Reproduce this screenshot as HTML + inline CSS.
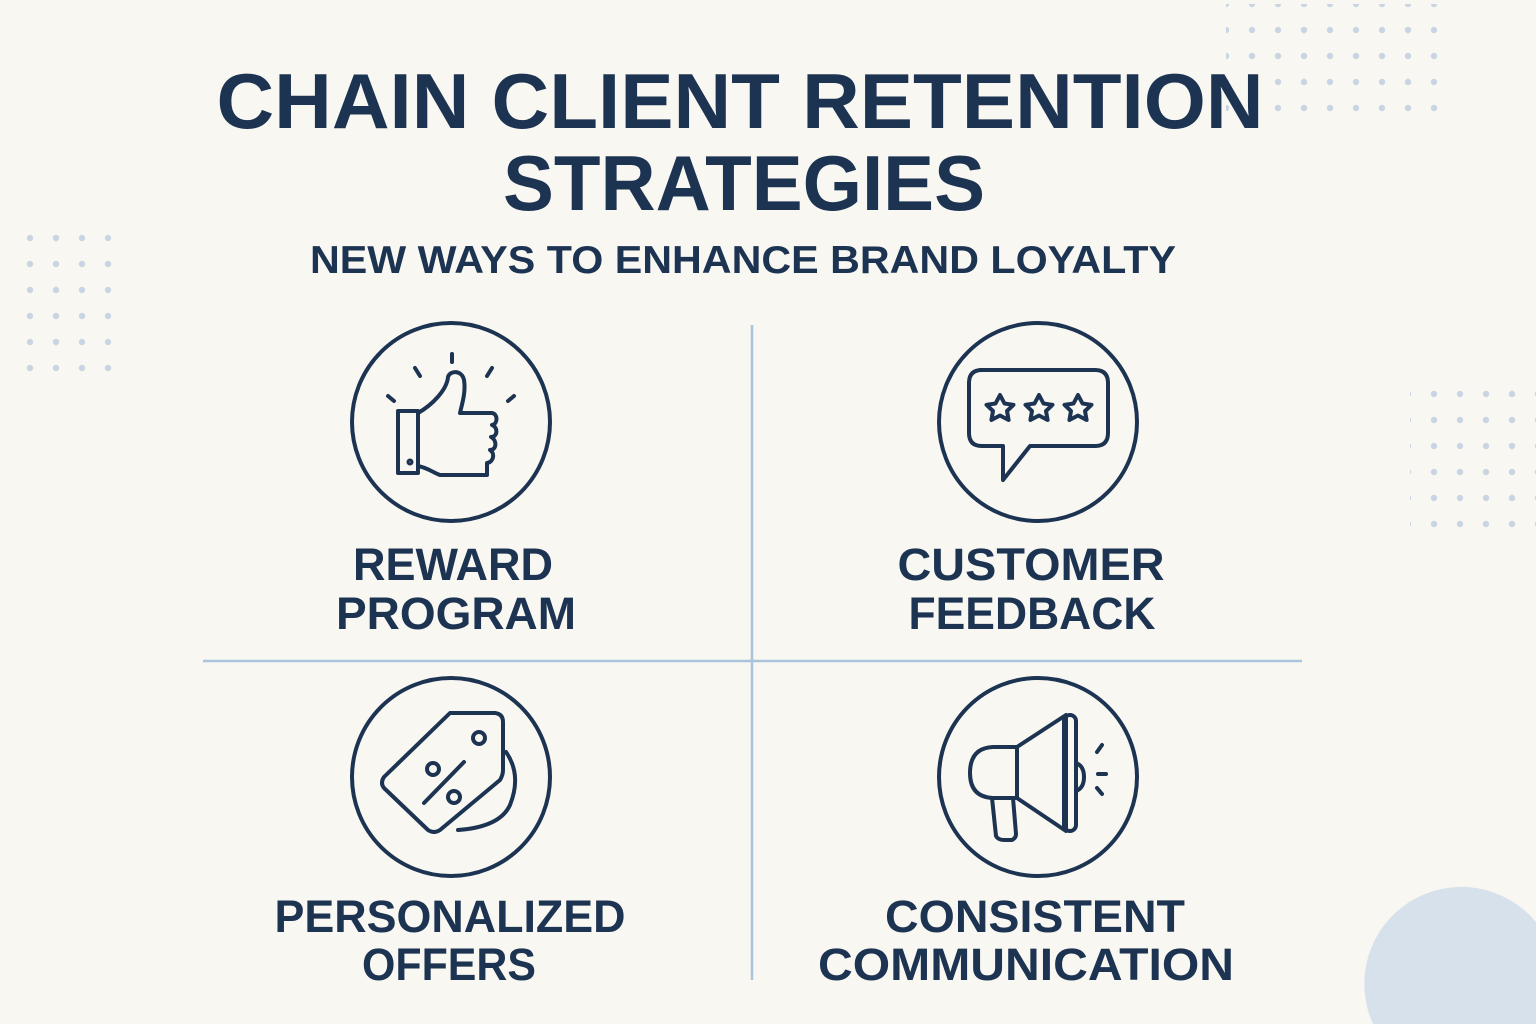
<!DOCTYPE html>
<html><head><meta charset="utf-8"><style>
html,body{margin:0;padding:0;background:#f9f7f2;width:1536px;height:1024px;overflow:hidden;}
svg{display:block}
text{font-family:"Liberation Sans",sans-serif;font-weight:bold;fill:#1c3352;text-anchor:middle}
</style></head><body>
<svg width="1536" height="1024" viewBox="0 0 1536 1024" xmlns="http://www.w3.org/2000/svg">
<rect width="1536" height="1024" fill="#f9f7f2"/>
<defs>
<pattern id="d" x="0" y="0" width="26" height="26" patternUnits="userSpaceOnUse"><circle cx="4" cy="4" r="3.2" fill="#c9d5e2"/></pattern>
</defs>
<rect x="1226" y="4" width="220" height="112" fill="url(#d)"/>
<rect x="11" y="224" width="112" height="160" fill="url(#d)"/>
<rect x="1410" y="381" width="126" height="160" fill="url(#d)"/>
<path d="M1536 922 A97 97 0 0 0 1373 1024 L1536 1024 Z" fill="#d6e1eb"/>

<text x="740" y="128" font-size="78" textLength="1047" lengthAdjust="spacingAndGlyphs">CHAIN CLIENT RETENTION</text>
<text x="744" y="210" font-size="78" textLength="482" lengthAdjust="spacingAndGlyphs">STRATEGIES</text>
<text x="743" y="273" font-size="39" textLength="866" lengthAdjust="spacingAndGlyphs">NEW WAYS TO ENHANCE BRAND LOYALTY</text>

<line x1="752" y1="325" x2="752" y2="980" stroke="#a9c4dc" stroke-width="2.5"/>
<line x1="203" y1="661" x2="1302" y2="661" stroke="#a9c4dc" stroke-width="2.5"/>

<g fill="none" stroke="#1c3352" stroke-width="4" stroke-linecap="round" stroke-linejoin="round">
<circle cx="451" cy="422" r="99"/>
<circle cx="1038" cy="422" r="99"/>
<circle cx="451" cy="777" r="99"/>
<circle cx="1038" cy="777" r="99"/>
<rect x="398" y="411" width="20" height="62"/>
<path d="M418 413 C432 405 447 390 448 377 C450 370 462 370 464 380 C466 392 462 404 460 413 L492 413 C498 414 498 424 492 425 C498 427 498 437 491 437 C497 440 497 450 490 450 C495 453 494 462 487 463 L487 475 L440 475 C432 472 428 468 418 466"/>
<circle cx="410" cy="462" r="1.5"/>
<line x1="452" y1="354" x2="452" y2="362"/>
<line x1="415" y1="368" x2="420" y2="376"/>
<line x1="492" y1="368" x2="487" y2="376"/>
<line x1="388" y1="396" x2="394" y2="401"/>
<line x1="514" y1="396" x2="508" y2="401"/>
<path d="M980 370 L1095 370 Q1108 370 1108 383 L1108 433 Q1108 446 1095 446 L1030 446 L1003 480 L1003 446 L982 446 Q969 446 969 433 L969 383 Q969 370 982 370 Z"/>
</g>
<g fill="none" stroke="#1c3352" stroke-width="4" stroke-linejoin="round">
<path d="M1000 395 l4.5 8.5 9 1.3 -6.5 6.2 1.6 9 -8.6 -4.5 -8.6 4.5 1.6 -9 -6.5 -6.2 9 -1.3z"/>
<path d="M1039 395 l4.5 8.5 9 1.3 -6.5 6.2 1.6 9 -8.6 -4.5 -8.6 4.5 1.6 -9 -6.5 -6.2 9 -1.3z"/>
<path d="M1078 395 l4.5 8.5 9 1.3 -6.5 6.2 1.6 9 -8.6 -4.5 -8.6 4.5 1.6 -9 -6.5 -6.2 9 -1.3z"/>
</g>
<g fill="none" stroke="#1c3352" stroke-width="4" stroke-linecap="round" stroke-linejoin="round">
<path d="M450 713 L495 713 Q503 714 503 722 L503 770 Q503 775 500 780 L440 830 Q434 834 428 830 L384 788 Q380 783 384 777 Z"/>
<circle cx="479" cy="738" r="6"/>
<path d="M506 752 Q522 775 510 805 Q500 827 458 830"/>
<circle cx="433" cy="769" r="6"/>
<circle cx="454" cy="797" r="6"/>
<line x1="424" y1="803" x2="464" y2="762"/>
<path d="M1017 747 L993 747 Q970 748 970 773 Q970 797 993 798 L1017 798 Z"/>
<path d="M1017 747 L1066 715 L1066 831 L1017 798"/>
<rect x="1064" y="715" width="12" height="116" rx="6"/>
<path d="M1076 763 Q1084 766 1084 777 Q1084 788 1076 791"/>
<path d="M992 798 L996 836 Q998 840 1004 840 L1012 840 Q1016 838 1016 834 L1013 798"/>
<line x1="1097" y1="752" x2="1102" y2="745"/>
<line x1="1098" y1="774" x2="1106" y2="774"/>
<line x1="1097" y1="788" x2="1102" y2="794"/>
</g>

<text x="453" y="580" font-size="45" textLength="200" lengthAdjust="spacingAndGlyphs">REWARD</text>
<text x="456" y="629" font-size="45" textLength="240" lengthAdjust="spacingAndGlyphs">PROGRAM</text>
<text x="1031" y="580" font-size="45" textLength="267" lengthAdjust="spacingAndGlyphs">CUSTOMER</text>
<text x="1032" y="629" font-size="45" textLength="247" lengthAdjust="spacingAndGlyphs">FEEDBACK</text>
<text x="450" y="932" font-size="45" textLength="351" lengthAdjust="spacingAndGlyphs">PERSONALIZED</text>
<text x="449" y="980" font-size="45" textLength="174" lengthAdjust="spacingAndGlyphs">OFFERS</text>
<text x="1035" y="932" font-size="45" textLength="300" lengthAdjust="spacingAndGlyphs">CONSISTENT</text>
<text x="1026" y="980" font-size="45" textLength="416" lengthAdjust="spacingAndGlyphs">COMMUNICATION</text>
</svg>
</body></html>
